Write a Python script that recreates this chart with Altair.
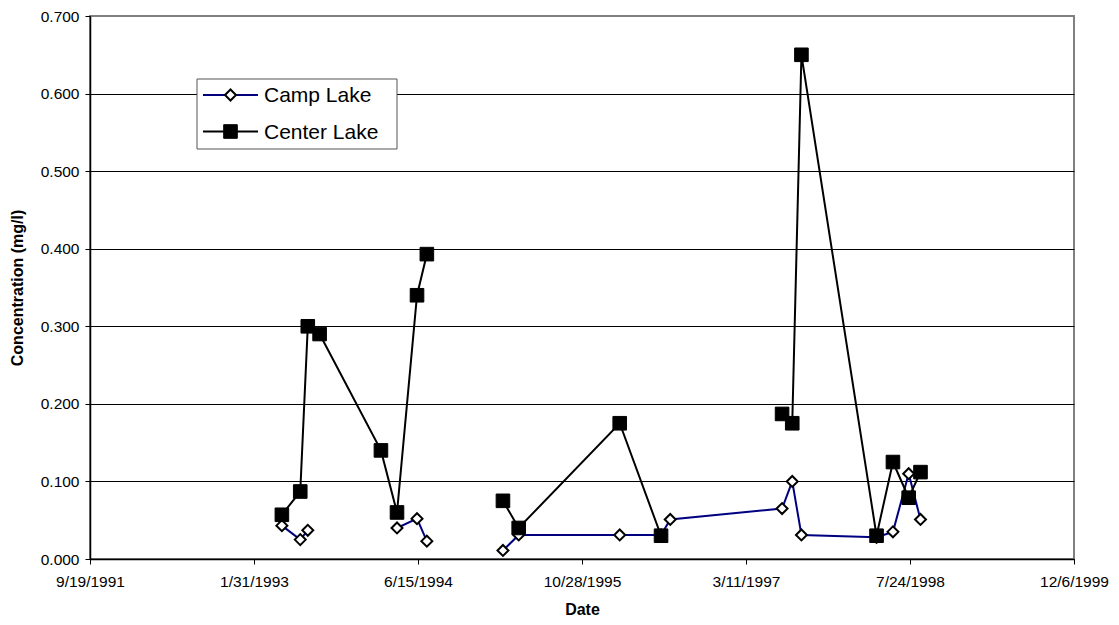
import altair as alt
import pandas as pd

# ---- data ----
dates = ["1993-04-26", "1993-06-21", "1993-07-14", "1993-08-19", "1994-02-22",
         "1994-04-12", "1994-06-12", "1994-07-12", "1994-11-01", "1995-03-01",
         "1995-04-18", "1996-02-20", "1996-06-25", "1996-07-23", "1997-06-29",
         "1997-07-30", "1997-08-27", "1998-04-13", "1998-06-02", "1998-07-20",
         "1998-08-25"]
camp_lake = [0.043, 0.025, 0.037, None, None, 0.040, 0.052, 0.023, None, 0.011,
             0.031, 0.031, 0.031, 0.051, 0.065, 0.100, 0.031, 0.028, 0.035, 0.110,
             0.051]
center_lake = [0.057, 0.087, 0.300, 0.290, 0.140, 0.060, 0.340, 0.393, None, 0.075,
               0.040, 0.175, 0.030, None, 0.187, 0.175, 0.650, 0.030, 0.125, 0.079,
               0.112]
lakes = ["Camp Lake", "Center Lake"]
x_ticks = [33500, 34000, 34500, 35000, 35500, 36000, 36500]  # Excel serial dates
y_ticks = [0.0, 0.1, 0.2, 0.3, 0.4, 0.5, 0.6, 0.7]

EPOCH = pd.Timestamp("1899-12-30")


def series_frame(values):
    rows = []
    seg = 0
    for d, v in zip(dates, values):
        if v is None:
            seg += 1
            continue
        rows.append({"serial": (pd.Timestamp(d) - EPOCH).days, "value": v, "seg": seg})
    return pd.DataFrame(rows)


camp_df = series_frame(camp_lake)
center_df = series_frame(center_lake)

FONT = "Liberation Sans"

X = alt.X(
    "serial:Q",
    scale=alt.Scale(domain=[x_ticks[0], x_ticks[-1]], nice=False, zero=False),
    axis=alt.Axis(
        values=x_ticks,
        labelExpr="utcFormat((datum.value - 25569) * 86400000, '%-m/%-d/%Y')",
        title="Date",
        grid=False,
        tickSize=5,
        labelPadding=10,
        labelFontSize=15.5,
        labelFlush=False,
        labelOverlap=False,
        titleFontSize=16,
        titleFontWeight="bold",
        titlePadding=12,
        domainWidth=1.5,
    ),
)
Y = alt.Y(
    "value:Q",
    scale=alt.Scale(domain=[0, 0.7], nice=False),
    axis=alt.Axis(
        values=y_ticks,
        format=".3f",
        title="Concentration (mg/l)",
        grid=True,
        gridColor=alt.condition("datum.value > 0.65", alt.value("#808080"), alt.value("#000000")),
        gridWidth=1,
        tickSize=5,
        labelPadding=6,
        labelFontSize=15.5,
        labelFlush=False,
        titleFontSize=16,
        titleFontWeight="bold",
        titlePadding=15,
        domainWidth=1.5,
    ),
)

camp_line = alt.Chart(camp_df).mark_line(color="#000080", strokeWidth=2).encode(
    x=X, y=Y, detail="seg:N")
camp_pts = alt.Chart(camp_df).mark_point(
    shape="diamond", filled=True, fill="white", stroke="black", strokeWidth=2,
    size=120, opacity=1).encode(x=X, y=Y)
center_line = alt.Chart(center_df).mark_line(color="black", strokeWidth=2).encode(
    x=X, y=Y, detail="seg:N")
center_pts = alt.Chart(center_df).mark_point(
    shape="square", filled=True, fill="black", stroke="black", strokeWidth=1,
    size=185, opacity=1).encode(x=X, y=Y)

# ---- legend box (drawn inside the plot, like the Excel legend) ----
legend_df = pd.DataFrame({"lake": lakes})
one = pd.DataFrame({"k": [0]})
legend_box = alt.Chart(one).mark_rect(fill="white", stroke="#555555", strokeWidth=1).encode(
    x=alt.value(107), x2=alt.value(307), y=alt.value(63), y2=alt.value(133))


def legend_row(name, ypix, line_color, shape, fill, size):
    base = alt.Chart(legend_df).transform_filter(alt.datum.lake == name)
    ln = base.mark_rule(color=line_color, strokeWidth=2).encode(
        x=alt.value(113), x2=alt.value(168), y=alt.value(ypix))
    pt = base.mark_point(shape=shape, filled=True, fill=fill, stroke="black",
                         strokeWidth=2 if fill == "white" else 1, size=size,
                         opacity=1).encode(x=alt.value(140.5), y=alt.value(ypix))
    tx = base.mark_text(align="left", baseline="middle", font=FONT, fontSize=21,
                        color="black").encode(
        x=alt.value(174), y=alt.value(ypix + 1), text="lake:N")
    return ln + pt + tx


legend = (legend_box
          + legend_row("Camp Lake", 79, "#000080", "diamond", "white", 120)
          + legend_row("Center Lake", 115.5, "black", "square", "black", 185))

chart = alt.layer(camp_line, camp_pts, center_line, center_pts, legend).properties(
    width=984, height=543,
    autosize=alt.AutoSizeParams(type="none"),
    padding={"left": 90, "top": 16, "right": 45, "bottom": 66},
    background="white",
).configure_axis(
    labelFont=FONT, titleFont=FONT, labelColor="black", titleColor="black",
    tickColor="black", domainColor="black",
).configure_view(stroke="#808080", strokeWidth=2)

chart.save("out.html", embed_options={"renderer": "svg", "actions": False})
